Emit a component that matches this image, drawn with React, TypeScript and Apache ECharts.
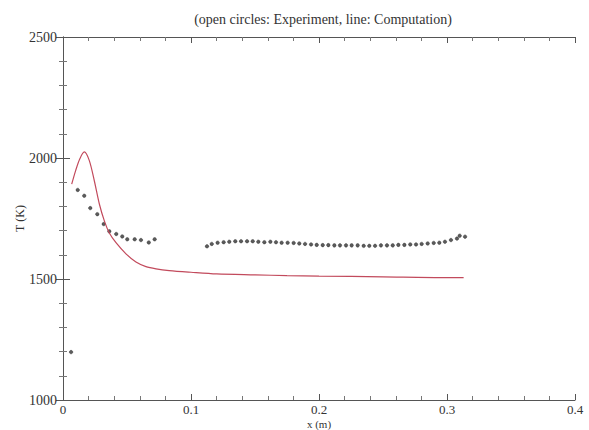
import React, { useEffect, useRef } from "react";
import * as echarts from "echarts";

const titleText = "(open circles: Experiment, line: Computation)";
const xAxisName = "x (m)";
const yAxisName = "T (K)";

// Experiment (open circles) [x (m), T (K)]
const expX = [
  0.0063, 0.0115, 0.0166, 0.0213, 0.0268, 0.0318, 0.0362, 0.0416, 0.0463, 0.0502, 0.056, 0.0609, 0.067, 0.0716,
  0.1125, 0.1162, 0.1208, 0.1255, 0.1299, 0.1346, 0.1391, 0.1438, 0.1482, 0.1526, 0.1573, 0.162, 0.1664, 0.1708,
  0.1755, 0.1802, 0.1846, 0.1891, 0.1938, 0.1982, 0.2029, 0.2073, 0.212, 0.2164, 0.2211, 0.2255, 0.2302, 0.2349,
  0.2393, 0.2438, 0.2484, 0.2531, 0.2576, 0.262, 0.2667, 0.2713, 0.2758, 0.2802, 0.2849, 0.2896, 0.294, 0.2984,
  0.3031, 0.3078, 0.3099, 0.3141,
];
const expT = [
  1198, 1868, 1844, 1793, 1768, 1727, 1697, 1686, 1676, 1664, 1664, 1661, 1651, 1664,
  1635, 1645, 1650, 1652, 1654, 1656, 1656, 1656, 1656, 1654, 1652, 1654, 1652, 1650,
  1650, 1649, 1647, 1645, 1643, 1641, 1640, 1640, 1639, 1639, 1639, 1639, 1639, 1637,
  1637, 1637, 1639, 1639, 1639, 1641, 1641, 1643, 1643, 1645, 1647, 1649, 1650, 1654,
  1661, 1667, 1679, 1675,
];

// Computation (line)
const compX = [
  0.0068, 0.01, 0.013, 0.0166, 0.0205, 0.0245, 0.0284, 0.0323, 0.0362, 0.0414, 0.0492, 0.057, 0.0648, 0.0727,
  0.083, 0.1, 0.12, 0.15, 0.175, 0.2, 0.25, 0.3, 0.313,
];
const compT = [
  1892, 1950, 1995, 2025, 1990, 1905, 1810, 1740, 1690, 1650, 1604, 1570, 1551, 1542,
  1535, 1528, 1521, 1517, 1514, 1512, 1509, 1506, 1506,
];

const FONT = "'Liberation Serif', 'DejaVu Serif', serif";

export default function App() {
  const ref = useRef<HTMLDivElement>(null);
  useEffect(() => {
    if (!ref.current) return;
    const chart = echarts.init(ref.current, null, { renderer: "svg" });
    const axisLine = { show: true, lineStyle: { color: "#555", width: 1 } };
    const baseX = {
      type: "value" as const,
      min: 0,
      max: 0.4,
      interval: 0.1,
      splitLine: { show: false },
      axisLine,
      axisTick: { show: true, inside: true, length: 6, lineStyle: { color: "#555" } },
      minorTick: { show: true, splitNumber: 5, length: 4, lineStyle: { color: "#777" } },
    };
    const baseY = {
      type: "value" as const,
      min: 1000,
      max: 2500,
      interval: 500,
      splitLine: { show: false },
      axisLine,
      axisTick: { show: true, inside: true, length: 7, lineStyle: { color: "#555" } },
      minorTick: { show: true, splitNumber: 5, length: 4, lineStyle: { color: "#777" } },
    };
    chart.setOption({
      animation: false,
      backgroundColor: "#ffffff",
      title: {
        text: titleText,
        left: 318,
        textAlign: "center",
        top: 7,
        textStyle: { fontFamily: FONT, fontSize: 14, fontWeight: "normal", color: "#333" },
      },
      grid: { left: 63, right: 14, top: 37, bottom: 30, containLabel: false, outerBoundsMode: "none" },
      xAxis: [
        {
          ...baseX,
          position: "bottom",
          name: xAxisName,
          nameLocation: "middle",
          nameGap: 18,
          nameMoveOverlap: false,
          nameTextStyle: { fontFamily: FONT, fontSize: 11, color: "#333" },
          axisLabel: {
            fontFamily: FONT,
            fontSize: 13,
            color: "#333",
            margin: 3,
            formatter: (v: number) => (v === 0 ? "0" : String(Math.round(v * 10) / 10)),
          },
        },
        { ...baseX, position: "top", axisLabel: { show: false } },
      ],
      yAxis: [
        {
          ...baseY,
          position: "left",
          name: yAxisName,
          nameLocation: "middle",
          nameGap: 37,
          nameRotate: 90,
          nameMoveOverlap: false,
          nameTextStyle: { fontFamily: FONT, fontSize: 12, color: "#333" },
          axisLabel: { fontFamily: FONT, fontSize: 14, color: "#333", margin: 6, formatter: (v: number) => String(v) },
        },
        { ...baseY, position: "right", axisLabel: { show: false } },
      ],
      series: [
        {
          name: "Computation",
          type: "line",
          xAxisIndex: 0,
          yAxisIndex: 0,
          data: compX.map((x, i) => [x, compT[i]]),
          showSymbol: false,
          symbol: "none",
          smooth: 0.3,
          lineStyle: { color: "#c24a5c", width: 1.2 },
        },
        {
          name: "Experiment",
          type: "scatter",
          xAxisIndex: 0,
          yAxisIndex: 0,
          data: expX.map((x, i) => [x, expT[i]]),
          symbol: "circle",
          symbolSize: 3.5,
          itemStyle: { color: "#333", borderColor: "#222", borderWidth: 0.5 },
        },
      ],
    });
    return () => chart.dispose();
  }, []);
  return <div ref={ref} style={{ width: 589, height: 430, position: "absolute", left: 0, top: 0 }} />;
}
